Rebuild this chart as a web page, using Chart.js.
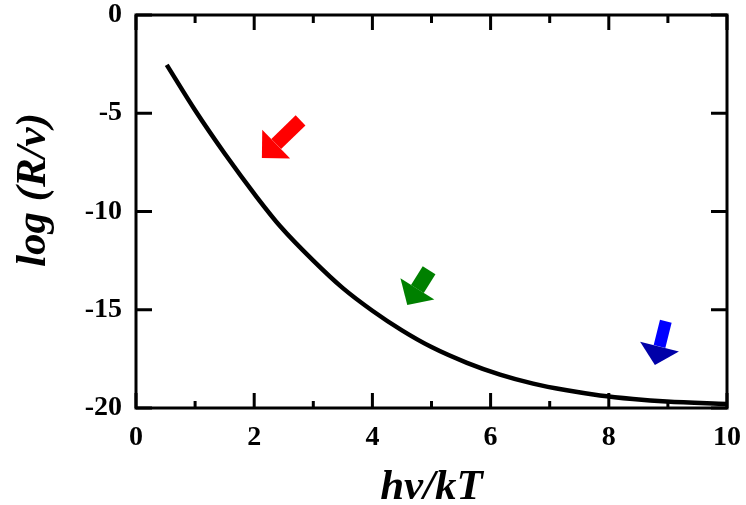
<!DOCTYPE html>
<html>
<head>
<meta charset="utf-8">
<script src="https://cdn.jsdelivr.net/npm/chart.js@4.4.0/dist/chart.umd.min.js"></script>
<style>
  html, body { margin: 0; padding: 0; background: #fff; }
  #wrap { width: 746px; height: 505px; }
</style>
</head>
<body>
<div id="wrap"><canvas id="grafico"></canvas></div>
<script>
// datos de la curva
var curveX = [0.52, 1.0, 1.5, 2.04, 2.44, 3.0, 3.5, 4.0, 4.5, 5.0, 5.6, 6.16, 6.72, 7.29, 7.85, 8.41, 8.98, 10];
var curveY = [-2.54, -4.85, -7.05, -9.25, -10.75, -12.5, -13.9, -15.05, -16.05, -16.9, -17.7, -18.3, -18.76, -19.1, -19.36, -19.54, -19.67, -19.8];

// marcas de los ejes
var xMajorTicks = [0, 2, 4, 6, 8, 10];
var xMinorTicks = [1, 3, 5, 7, 9];
var yMajorTicks = [0, -5, -10, -15, -20];

// flechas (punta en coordenadas de datos)
var arrowTipX = [2.13, 4.59, 8.78];
var arrowTipY = [-7.28, -14.76, -17.81];
var arrowColor = ['#ff0000', '#008000', '#0000ff'];
var arrowHeadColor = ['#ff0000', '#008000', '#0000a8'];

var serif = "'Liberation Serif', 'DejaVu Serif', serif";

// geometria de las flechas en pixeles
var arrowShape = [
    { dx: -39, dy: 38, len: 54, head: 20, half: 20, shaft: 7 },
    { dx: -22, dy: 35, len: 41, head: 19, half: 20, shaft: 7.5 },
    { dx: -11, dy: 44, len: 45, head: 19, half: 20, shaft: 6 }
];

function sinPadding(scale) {
    scale.paddingLeft = 0;
    scale.paddingRight = 0;
    scale.paddingTop = 0;
    scale.paddingBottom = 0;
}

var marcoPlugin = {
    id: 'marco',
    afterDatasetsDraw: function (chart) {
        var ctx = chart.ctx;
        var a = chart.chartArea;
        var xs = chart.scales.x, ys = chart.scales.y;
        ctx.save();
        ctx.strokeStyle = '#000';
        ctx.lineWidth = 3;
        ctx.lineCap = 'butt';
        ctx.strokeRect(a.left, a.top, a.right - a.left, a.bottom - a.top);
        ctx.beginPath();
        xMajorTicks.forEach(function (v) {
            var px = xs.getPixelForValue(v);
            ctx.moveTo(px, a.bottom); ctx.lineTo(px, a.bottom - 15);
            ctx.moveTo(px, a.top); ctx.lineTo(px, a.top + 15);
        });
        xMinorTicks.forEach(function (v) {
            var px = xs.getPixelForValue(v);
            ctx.moveTo(px, a.bottom); ctx.lineTo(px, a.bottom - 7);
            ctx.moveTo(px, a.top); ctx.lineTo(px, a.top + 8);
        });
        yMajorTicks.forEach(function (v) {
            var py = ys.getPixelForValue(v);
            ctx.moveTo(a.left, py); ctx.lineTo(a.left + 16, py);
            ctx.moveTo(a.right, py); ctx.lineTo(a.right - 16, py);
        });
        ctx.stroke();

        // flechas
        for (var i = 0; i < arrowTipX.length; i++) {
            var s = arrowShape[i];
            var tx = xs.getPixelForValue(arrowTipX[i]);
            var ty = ys.getPixelForValue(arrowTipY[i]);
            var m = Math.sqrt(s.dx * s.dx + s.dy * s.dy);
            var ux = s.dx / m, uy = s.dy / m;
            var nx = -uy, ny = ux;
            var bx = tx - ux * s.head, by = ty - uy * s.head;
            var ex = tx - ux * s.len, ey = ty - uy * s.len;
            ctx.fillStyle = arrowColor[i];
            ctx.beginPath();
            ctx.moveTo(bx + nx * s.shaft, by + ny * s.shaft);
            ctx.lineTo(ex + nx * s.shaft, ey + ny * s.shaft);
            ctx.lineTo(ex - nx * s.shaft, ey - ny * s.shaft);
            ctx.lineTo(bx - nx * s.shaft, by - ny * s.shaft);
            ctx.closePath();
            ctx.fill();
            ctx.fillStyle = arrowHeadColor[i];
            ctx.beginPath();
            ctx.moveTo(tx, ty);
            ctx.lineTo(bx + nx * s.half, by + ny * s.half);
            ctx.lineTo(bx - nx * s.half, by - ny * s.half);
            ctx.closePath();
            ctx.fill();
        }

        // titulos de los ejes
        ctx.fillStyle = '#000';
        ctx.font = "italic bold 43px " + serif;
        ctx.textAlign = 'center';
        ctx.textBaseline = 'alphabetic';
        ctx.fillText('h\u03bd/kT', (a.left + a.right) / 2, 499);
        ctx.save();
        ctx.translate(45, 190);
        ctx.rotate(-Math.PI / 2);
        ctx.fillText('log (R/\u03bd)', 0, 0);
        ctx.restore();
        ctx.restore();
    }
};

var ctx = document.getElementById('grafico').getContext('2d');
var myChart = new Chart(ctx, {
    type: 'line',
    data: {
        datasets: [{
            data: curveX.map(function (x, i) { return { x: x, y: curveY[i] }; }),
            borderColor: '#000',
            borderWidth: 4.5,
            pointRadius: 0,
            fill: false,
            cubicInterpolationMode: 'monotone'
        }]
    },
    options: {
        responsive: true,
        maintainAspectRatio: false,
        animation: false,
        layout: { padding: { top: 15, right: 19, left: 0, bottom: 0 } },
        plugins: { legend: { display: false }, tooltip: { enabled: false } },
        scales: {
            x: {
                type: 'linear',
                min: 0, max: 10,
                grid: { display: false, drawTicks: false },
                border: { display: false },
                ticks: {
                    stepSize: 2,
                    padding: 13,
                    color: '#000',
                    maxRotation: 0,
                    font: { family: serif, size: 28, weight: 'bold' }
                },
                afterFit: function (scale) { scale.height = 97; sinPadding(scale); }
            },
            y: {
                min: -20, max: 0,
                grid: { display: false, drawTicks: false },
                border: { display: false },
                ticks: {
                    stepSize: 5,
                    padding: 14,
                    color: '#000',
                    font: { family: serif, size: 28, weight: 'bold' }
                },
                afterFit: function (scale) { scale.width = 136; sinPadding(scale); }
            }
        }
    },
    plugins: [marcoPlugin]
});
</script>
</body>
</html>
